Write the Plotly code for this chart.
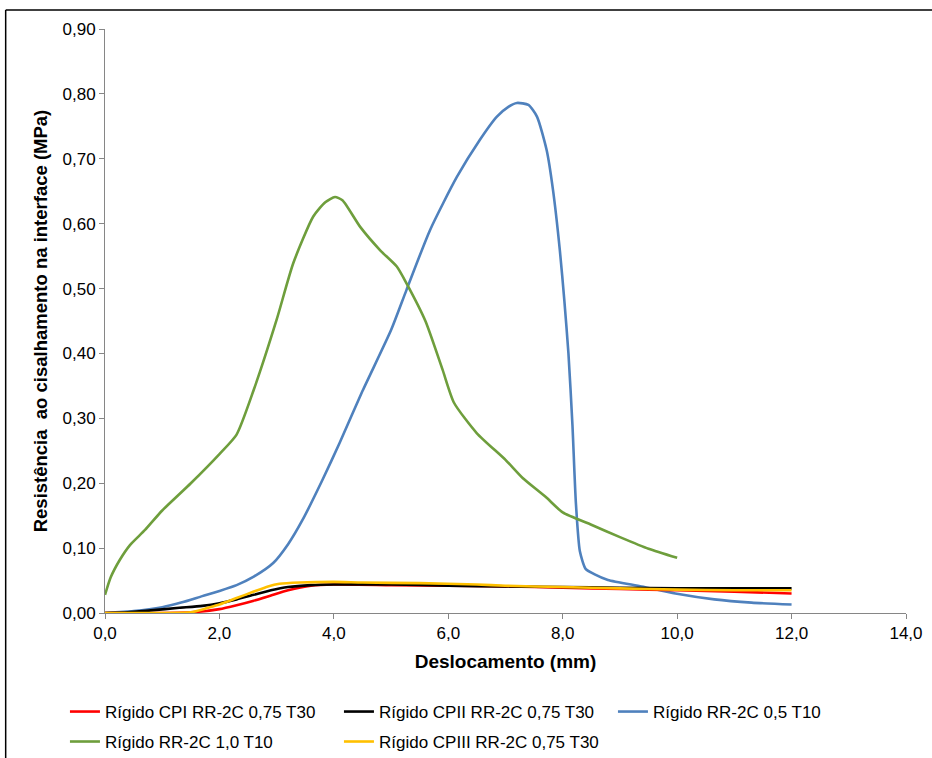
import plotly.graph_objects as go

# ---------------- data ----------------
x_cpi = [0.0, 1.0, 1.5, 2.0, 2.3, 2.6, 2.9, 3.2, 3.6, 4.0, 5.0, 6.0, 7.0, 8.0, 9.0, 10.0, 11.0, 12.0]
y_cpi = [0.0, 0.0, 0.001, 0.006, 0.012, 0.019, 0.027, 0.035, 0.042, 0.044, 0.043, 0.042, 0.041, 0.039, 0.037, 0.035, 0.033, 0.030]

x_cpii = [0.0, 0.4, 0.8, 1.3, 1.7, 2.0, 2.3, 2.6, 2.9, 3.2, 3.6, 4.0, 5.0, 6.0, 7.0, 8.0, 9.0, 10.0, 11.0, 12.0]
y_cpii = [0.0, 0.001, 0.004, 0.008, 0.011, 0.015, 0.021, 0.028, 0.035, 0.040, 0.043, 0.044, 0.044, 0.042, 0.041, 0.040, 0.039, 0.038, 0.038, 0.038]

x_05 = [0.0, 0.5, 1.0, 1.33, 1.7, 2.0, 2.3, 2.6, 2.94, 3.2, 3.45, 3.8, 4.1, 4.5, 5.0, 5.27, 5.68, 6.15, 6.55, 6.85, 7.05, 7.2, 7.4, 7.55, 7.72, 7.83, 7.95, 8.03, 8.1, 8.17, 8.23, 8.3, 8.4, 8.55, 8.79, 9.38, 9.97, 10.65, 11.3, 12.0]
y_05 = [0.0, 0.003, 0.009, 0.016, 0.026, 0.034, 0.043, 0.056, 0.077, 0.106, 0.143, 0.205, 0.262, 0.342, 0.436, 0.498, 0.590, 0.672, 0.729, 0.765, 0.780, 0.786, 0.783, 0.765, 0.713, 0.652, 0.559, 0.480, 0.400, 0.290, 0.170, 0.095, 0.068, 0.060, 0.051, 0.041, 0.030, 0.021, 0.016, 0.013]

x_10 = [0.0, 0.1, 0.26, 0.44, 0.7, 1.0, 1.5, 2.0, 2.3, 2.6, 3.0, 3.29, 3.64, 3.85, 4.02, 4.15, 4.46, 4.81, 5.1, 5.27, 5.6, 5.9, 6.1, 6.5, 7.0, 7.3, 7.7, 8.0, 8.5, 9.0, 9.5, 10.0]
y_10 = [0.028, 0.055, 0.082, 0.105, 0.128, 0.158, 0.200, 0.245, 0.275, 0.344, 0.452, 0.539, 0.611, 0.633, 0.641, 0.636, 0.595, 0.559, 0.534, 0.508, 0.450, 0.375, 0.324, 0.277, 0.236, 0.208, 0.179, 0.155, 0.136, 0.117, 0.099, 0.085]

x_cpiii = [0.0, 1.0, 1.5, 1.8, 2.0, 2.3, 2.6, 2.85, 3.05, 3.4, 4.0, 4.5, 5.5, 6.5, 7.0, 8.0, 9.0, 10.0, 11.0, 12.0]
y_cpiii = [0.0, 0.0, 0.001, 0.008, 0.013, 0.023, 0.033, 0.041, 0.045, 0.047, 0.048, 0.047, 0.046, 0.044, 0.042, 0.040, 0.038, 0.036, 0.035, 0.035]

names = ["Rígido CPI RR-2C 0,75 T30", "Rígido CPII RR-2C 0,75 T30", "Rígido RR-2C 0,5 T10",
         "Rígido RR-2C 1,0 T10", "Rígido CPIII RR-2C 0,75 T30"]
colors = ["#FF0000", "#000000", "#4F81BD", "#6E9E3C", "#FFC000"]
legend_rows = ["legend", "legend", "legend", "legend2", "legend2"]

x_ticks = [0, 2, 4, 6, 8, 10, 12, 14]
x_tick_labels = ["0,0", "2,0", "4,0", "6,0", "8,0", "10,0", "12,0", "14,0"]
y_ticks = [0, 0.1, 0.2, 0.3, 0.4, 0.5, 0.6, 0.7, 0.8, 0.9]
y_tick_labels = ["0,00", "0,10", "0,20", "0,30", "0,40", "0,50", "0,60", "0,70", "0,80", "0,90"]

# ---------------- figure ----------------
fig = go.Figure()
series = [(x_cpi, y_cpi), (x_cpii, y_cpii), (x_05, y_05), (x_10, y_10), (x_cpiii, y_cpiii)]
order = [2, 3, 0, 1, 4]
for i in order:
    xs, ys = series[i]
    fig.add_trace(go.Scatter(x=xs, y=ys, mode="lines", name=names[i],
                             line=dict(color=colors[i], width=2.6, shape="spline", smoothing=0.6),
                             legendrank=i + 1, legend=legend_rows[i]))

font = "Liberation Sans, Arial, sans-serif"
leg_common = dict(orientation="h", xanchor="left", yanchor="top",
                  entrywidth=229, entrywidthmode="pixels", itemwidth=30,
                  font=dict(family=font, size=17, color="#000000"), traceorder="normal",
                  bgcolor="rgba(0,0,0,0)")
fig.update_layout(
    width=932, height=758,
    paper_bgcolor="white", plot_bgcolor="white",
    margin=dict(l=105, r=26, t=29, b=145, autoexpand=False),
    font=dict(family=font, size=17, color="#000000"),
    showlegend=True,
    legend=dict(x=-0.05, y=-0.1387, **leg_common),
    legend2=dict(x=-0.05, y=-0.19, **leg_common),
    xaxis=dict(range=[0, 14], tickvals=x_ticks, ticktext=x_tick_labels, automargin=False,
               showgrid=False, zeroline=False, showline=True, linecolor="#868686", linewidth=1,
               ticks="outside", ticklen=5, tickcolor="#868686",
               tickfont=dict(size=17, family=font),
               title=dict(text="<b>Deslocamento (mm)</b>", font=dict(size=19, family=font), standoff=12)),
    yaxis=dict(range=[0, 0.9], tickvals=y_ticks, ticktext=y_tick_labels, automargin=False,
               showgrid=False, zeroline=False, showline=True, linecolor="#868686", linewidth=1,
               ticks="outside", ticklen=5, tickcolor="#868686",
               tickfont=dict(size=17, family=font),
               title=dict(text="<b>Resistência  ao cisalhamento na interface (MPa)</b>",
                          font=dict(size=18.5, family=font), standoff=10)),
    shapes=[dict(type="line", xref="paper", yref="paper", x0=-0.124, x1=1.1, y0=1.0325, y1=1.0325,
                 line=dict(color="#000000", width=1.5)),
            dict(type="line", xref="paper", yref="paper", x0=-0.124, x1=-0.124, y0=1.0325, y1=-0.3,
                 line=dict(color="#000000", width=1.5))],
)

fig.write_html("out.html", config={"displayModeBar": False},
               post_script="document.body.style.margin='0px';")
